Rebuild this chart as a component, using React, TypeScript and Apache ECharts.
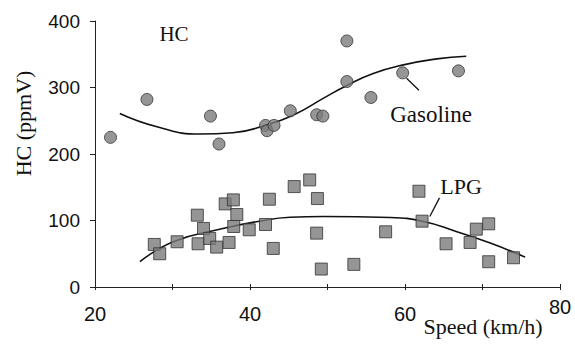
import React, { useEffect, useRef } from "react";
import * as echarts from "echarts";

// HC emissions vs. vehicle speed: measured points and fitted trends
const gasolineSpeed = [22.0, 26.7, 34.9, 36.0, 42.0, 42.2, 43.1, 45.2, 48.6, 49.4, 52.5, 52.5, 55.6, 59.7, 66.9];
const gasolineHC = [225, 282, 257, 215, 243, 235, 243, 265, 259, 257, 370, 309, 285, 322, 325];

const lpgSpeed = [
  27.65, 28.35, 30.6, 33.2, 34.0, 33.3, 34.8, 35.7, 37.3, 36.8, 37.85, 38.3, 37.9, 39.9, 42.0, 42.5,
  43.0, 45.7, 47.7, 48.7, 48.6, 49.2, 53.4, 57.5, 61.8, 62.2, 65.3, 68.4, 69.2, 70.8, 70.8, 74.0,
];
const lpgHC = [
  64, 50, 68, 108, 88, 65, 73, 60, 67, 125, 131, 109, 91, 86, 94, 132,
  58, 151, 161, 133, 81, 27, 34, 83, 144, 99, 65, 67, 87, 95, 38, 44,
];

// Fitted trend curves, sampled along their length
const gasolineFitSpeed = [23.2, 28.0, 33.5, 37.8, 41.7, 46.0, 49.5, 52.5, 55.9, 59.8, 64.1, 67.9];
const gasolineFitHC = [261, 241, 230, 232, 242, 261, 284, 303, 321, 334, 343, 347];
const lpgFitSpeed = [25.8, 30.1, 36.5, 40.8, 45.2, 49.5, 58.1, 62.4, 66.6, 71.0, 75.5];
const lpgFitHC = [38, 68, 88, 98, 105, 106, 104.5, 98.5, 83.5, 66, 45];

// Leader lines from the series labels to their curves
const gasolineLeader = [[60.2, 314], [61.8, 296]];
const lpgLeader = [[64.45, 134], [63.2, 106]];

const xTicks = [20, 30, 40, 50, 60, 70, 80];
const xLabelled = [20, 40, 60];
const xLabelRaised = [80];

const SERIF = '"Liberation Serif", "Times New Roman", serif';
const SANS = '"Liberation Sans", Arial, sans-serif';

const zip = (a: number[], b: number[]) => a.map((v, i) => [v, b[i]]);

export default function App() {
  const ref = useRef<HTMLDivElement>(null);

  useEffect(() => {
    if (!ref.current) return;
    const chart = echarts.init(ref.current, null, { renderer: "svg" });

    const baseX = {
      type: "value" as const,
      min: xTicks[0],
      max: xTicks[xTicks.length - 1],
      interval: 10,
      position: "bottom" as const,
      splitLine: { show: false },
      axisLine: { show: true, lineStyle: { color: "#222", width: 1 } },
    };

    chart.setOption({
      animation: false,
      backgroundColor: "#fff",
      grid: { left: 95, right: 15, top: 21, bottom: 62 },
      xAxis: [
        {
          ...baseX,
          axisTick: { show: true, inside: false, length: 3, lineStyle: { color: "#222" } },
          axisLabel: {
            margin: 17,
            fontFamily: SANS,
            fontSize: 20,
            color: "#111",
            formatter: (v: number) => (xLabelled.includes(v) ? String(v) : ""),
          },
        },
        {
          ...baseX,
          axisTick: { show: true, inside: true, length: 3, lineStyle: { color: "#222" } },
          axisLabel: {
            margin: 10,
            fontFamily: SANS,
            fontSize: 20,
            color: "#111",
            formatter: (v: number) => (xLabelRaised.includes(v) ? String(v) : ""),
          },
        },
      ],
      yAxis: {
        type: "value",
        min: 0,
        max: 400,
        interval: 100,
        splitLine: { show: false },
        axisLine: { show: true, lineStyle: { color: "#222", width: 1 } },
        axisTick: { show: true, length: 5, lineStyle: { color: "#222" } },
        axisLabel: { margin: 15, fontFamily: SANS, fontSize: 19, color: "#111" },
      },
      series: [
        {
          type: "line",
          data: zip(gasolineFitSpeed, gasolineFitHC),
          smooth: 0.5,
          showSymbol: false,
          lineStyle: { color: "#111", width: 1.6 },
          z: 2,
        },
        {
          type: "line",
          data: zip(lpgFitSpeed, lpgFitHC),
          smooth: 0.5,
          showSymbol: false,
          lineStyle: { color: "#111", width: 1.6 },
          z: 2,
        },
        {
          type: "line",
          data: gasolineLeader,
          showSymbol: false,
          lineStyle: { color: "#111", width: 1.3 },
          z: 2,
        },
        {
          type: "line",
          data: lpgLeader,
          showSymbol: false,
          lineStyle: { color: "#111", width: 1.3 },
          z: 2,
        },
        {
          type: "scatter",
          data: zip(gasolineSpeed, gasolineHC),
          symbol: "circle",
          symbolSize: 12,
          itemStyle: { color: "#7c7c7c", borderColor: "#333", borderWidth: 1 },
          z: 3,
        },
        {
          type: "scatter",
          data: zip(lpgSpeed, lpgHC),
          symbol: "rect",
          symbolSize: 12,
          itemStyle: { color: "#7a7a7a", borderColor: "#333", borderWidth: 1 },
          z: 3,
        },
      ],
      graphic: [
        {
          type: "text",
          x: 174,
          y: 34,
          style: { text: "HC", font: `21px ${SERIF}`, fill: "#111", align: "center", verticalAlign: "middle" },
        },
        {
          type: "text",
          x: 431,
          y: 114,
          style: { text: "Gasoline", font: `23px ${SERIF}`, fill: "#111", align: "center", verticalAlign: "middle" },
        },
        {
          type: "text",
          x: 461,
          y: 186,
          style: { text: "LPG", font: `22px ${SERIF}`, fill: "#111", align: "center", verticalAlign: "middle" },
        },
        {
          type: "text",
          x: 483,
          y: 326,
          style: { text: "Speed (km/h)", font: `22px ${SERIF}`, fill: "#111", align: "center", verticalAlign: "middle" },
        },
        {
          type: "text",
          x: 23.5,
          y: 123.5,
          rotation: Math.PI / 2,
          style: { text: "HC (ppmV)", font: `22px ${SERIF}`, fill: "#111", align: "center", verticalAlign: "middle" },
        },
      ],
    });

    return () => chart.dispose();
  }, []);

  return (
    <div
      ref={ref}
      style={{ position: "fixed", left: 0, top: 0, width: 575, height: 349, background: "#fff" }}
    />
  );
}
